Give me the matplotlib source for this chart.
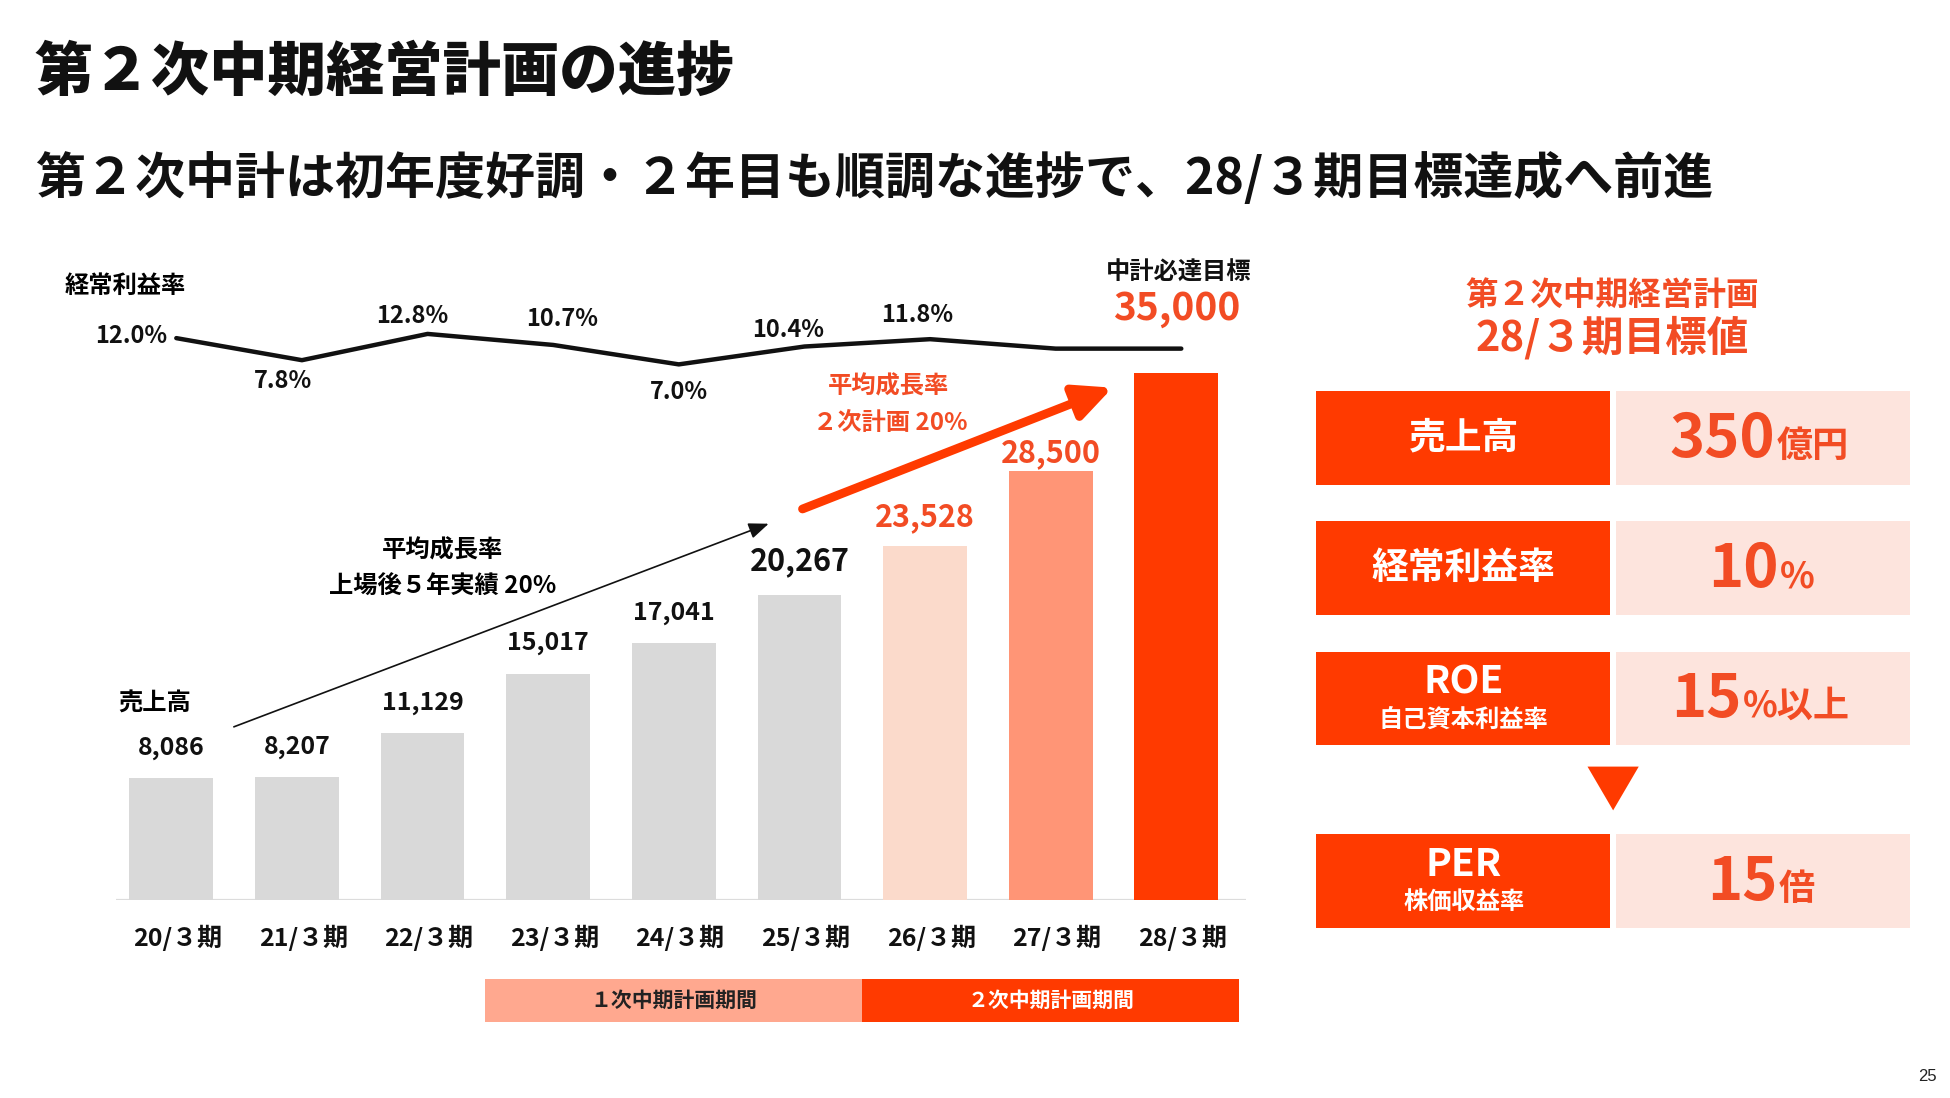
import numpy as np
import matplotlib
matplotlib.use("Agg")
import matplotlib.pyplot as plt
from matplotlib.patches import Rectangle, Polygon
from matplotlib.transforms import blended_transform_factory

plt.rcParams['font.family'] = ['Noto Sans CJK JP', 'DejaVu Sans']

# ---- data ----
periods = ["20/３期", "21/３期", "22/３期", "23/３期", "24/３期",
           "25/３期", "26/３期", "27/３期", "28/３期"]
sales = [8086, 8207, 11129, 15017, 17041, 20267, 23528, 28500, 35000]
margin = [12.0, 7.8, 12.8, 10.7, 7.0, 10.4, 11.8, 10.0, 10.0]
margin_labels = ["12.0%", "7.8%", "12.8%", "10.7%", "7.0%", "10.4%", "11.8%", "", ""]

target_names = ["売上高", "経常利益率", "ROE", "PER"]
target_subnames = ["", "", "自己資本利益率", "株価収益率"]
target_values = ["350", "10", "15", "15"]
target_units = ["億円", "%", "%以上", "倍"]

phase_labels = ["１次中期計画期間", "２次中期計画期間"]

# ---- colours ----
GRAY = "#D9D9D9"
RED = "#FF3A00"
ORANGE_TXT = "#F24C24"
bar_colors = [GRAY] * 6 + ["#FBDACB", "#FF9576", RED]
label_colors = ["#111111"] * 6 + [ORANGE_TXT] * 3

# layout grid of the reference slide (1560 x 878 units)
W, H = 1560.0, 878.0
PT = 0.9  # points per grid unit


def fx(x):
    return x / W


def fy(y):
    return 1 - y / H


fig = plt.figure(figsize=(19.5, 10.98), dpi=100)

# ---- headings ----
fig.text(fx(28), fy(58), "第２次中期経営計画の進捗", fontsize=42, fontweight="heavy",
         ha="left", va="center", color="#111111")
fig.text(fx(28), fy(143), "第２次中計は初年度好調・２年目も順調な進捗で、28/３期目標達成へ前進",
         fontsize=36, fontweight="bold", ha="left", va="center", color="#111111")

# ---- bar chart ----
x = np.arange(len(periods))
ax = fig.add_axes([fx(93), fy(720), fx(997) - fx(93), fy(201.5) - fy(720)])
ax.set_xlim(-0.438, 8.557)
ax.set_ylim(0, 43000)
ax.bar(x, sales, width=0.667, color=bar_colors, zorder=2)
ax.axhline(0, color="#DCDCDC", lw=1.6, zorder=1)
ax.axis("off")

bar_lbl_size = [18, 18, 18, 18, 18, 22, 22, 22, 28]
bar_lbl_gap = [24, 24, 24, 25, 24, 27, 23, 14, 51]
for i, v in enumerate(sales):
    ax.annotate(f"{v:,}", (x[i], v), xytext=(0, bar_lbl_gap[i] * PT),
                textcoords="offset points", ha="center", va="center",
                fontsize=bar_lbl_size[i], fontweight="bold", color=label_colors[i])
ax.annotate("中計必達目標", (x[-1], sales[-1]), xytext=(2 * PT, 80 * PT),
            textcoords="offset points", ha="center", va="center",
            fontsize=17.5, fontweight="bold", color="#111111")

for i, lbl in enumerate(periods):
    ax.annotate(lbl, (x[i], 0), xytext=(5 * PT, -30 * PT), textcoords="offset points",
                ha="center", va="center", fontsize=18, fontweight="bold", color="#111111")

# phase bands under the axis
btr = blended_transform_factory(ax.transData, fig.transFigure)
band_cols = ["#FFA88F", RED]
band_txt = ["#222222", "white"]
for k, (x0, x1) in enumerate([(2.5, 5.5), (5.5, 8.5)]):
    ax.add_patch(Rectangle((x0, fy(817)), x1 - x0, fy(783) - fy(817), transform=btr,
                           facecolor=band_cols[k], edgecolor="none", clip_on=False))
    ax.text((x0 + x1) / 2, fy(800), phase_labels[k], transform=btr, ha="center",
            va="center", fontsize=15, fontweight="bold", color=band_txt[k])

# ---- margin line ----
ax2 = ax.twinx()
ax2.set_ylim(-95.06, 28.4)
ax2.plot(x + 0.04, margin, color="#111111", lw=3.2, solid_capstyle="round",
         solid_joinstyle="round", zorder=3)
ax2.axis("off")

m_off = [(-7, 2), (-15, -17), (-12, 14), (7, 21), (0, -22), (-13, 13), (-10, 19)]
for i, lbl in enumerate(margin_labels):
    if not lbl:
        continue
    dx, dy = m_off[i]
    ax2.annotate(lbl, (x[i] + 0.04, margin[i]), xytext=(dx * PT, dy * PT),
                 textcoords="offset points", ha="right" if i == 0 else "center",
                 va="center", fontsize=17, fontweight="bold", color="#111111")

fig.text(fx(52), fy(229), "経常利益率", fontsize=17.5, fontweight="bold", ha="left", va="center")
fig.text(fx(95), fy(563), "売上高", fontsize=17.5, fontweight="bold", ha="left", va="center")

# growth arrows
fig.add_artist(matplotlib.patches.FancyArrowPatch(
    (fx(185), fy(582)), (fx(617), fy(418)), transform=fig.transFigure,
    arrowstyle="-|>,head_length=0.55,head_width=0.22", mutation_scale=22,
    lw=1.2, color="#111111"))
fig.text(fx(354), fy(440), "平均成長率", fontsize=17.5, fontweight="bold", ha="center", va="center")
fig.text(fx(354), fy(469), "上場後５年実績 20%", fontsize=17.5, fontweight="bold", ha="center", va="center")

fig.add_artist(matplotlib.patches.FancyArrowPatch(
    (fx(642), fy(407)), (fx(890), fy(310)), transform=fig.transFigure,
    arrowstyle="-|>,head_length=0.8,head_width=0.38", mutation_scale=28,
    lw=6.3, color="#FF3A00", shrinkA=0, shrinkB=0))
fig.text(fx(711), fy(309), "平均成長率", fontsize=17.5, fontweight="bold", ha="center",
         va="center", color=ORANGE_TXT)
fig.text(fx(712), fy(338), "２次計画 20%", fontsize=17.5, fontweight="bold", ha="center",
         va="center", color=ORANGE_TXT)

# ---- target panel ----
fig.text(fx(1290), fy(236), "第２次中期経営計画", fontsize=23.5, fontweight="bold",
         ha="center", va="center", color=ORANGE_TXT)
fig.text(fx(1290), fy(270), "28/３期目標値", fontsize=30, fontweight="bold",
         ha="center", va="center", color=ORANGE_TXT)

rows = [(313, 388), (417, 492), (521, 596), (667, 742)]
split_x = [1420, 1423, 1393, 1422]
for k, (t, b) in enumerate(rows):
    fig.add_artist(Rectangle((fx(1053), fy(b)), fx(1288) - fx(1053), fy(t) - fy(b),
                             transform=fig.transFigure, facecolor=RED, edgecolor="none"))
    fig.add_artist(Rectangle((fx(1293), fy(b)), fx(1528) - fx(1293), fy(t) - fy(b),
                             transform=fig.transFigure, facecolor="#FDE4DD", edgecolor="none"))
    cy = (t + b) / 2
    if target_subnames[k]:
        fig.text(fx(1171), fy(cy - 13), target_names[k], fontsize=28, fontweight="bold",
                 ha="center", va="center", color="white")
        fig.text(fx(1171), fy(cy + 17), target_subnames[k], fontsize=17.5, fontweight="bold",
                 ha="center", va="center", color="white")
    else:
        fig.text(fx(1171), fy(cy), target_names[k], fontsize=26.5, fontweight="bold",
                 ha="center", va="center", color="white")
    fig.text(fx(split_x[k]), fy(cy + 15), target_values[k], fontsize=43, fontweight="bold",
             ha="right", va="baseline", color=ORANGE_TXT)
    fig.text(fx(split_x[k] + 1), fy(cy + 15), target_units[k], fontsize=26, fontweight="bold",
             ha="left", va="baseline", color=ORANGE_TXT)

fig.add_artist(Polygon([(fx(1270), fy(613)), (fx(1311), fy(613)), (fx(1290.5), fy(648))],
                       closed=True, transform=fig.transFigure, facecolor=RED, edgecolor="none"))

fig.text(fx(1542), fy(861), "25", fontsize=12, family=["Liberation Sans", "DejaVu Sans"],
         ha="center", va="center", color="#222222")

fig.savefig("out.png", dpi=100, facecolor="white")
